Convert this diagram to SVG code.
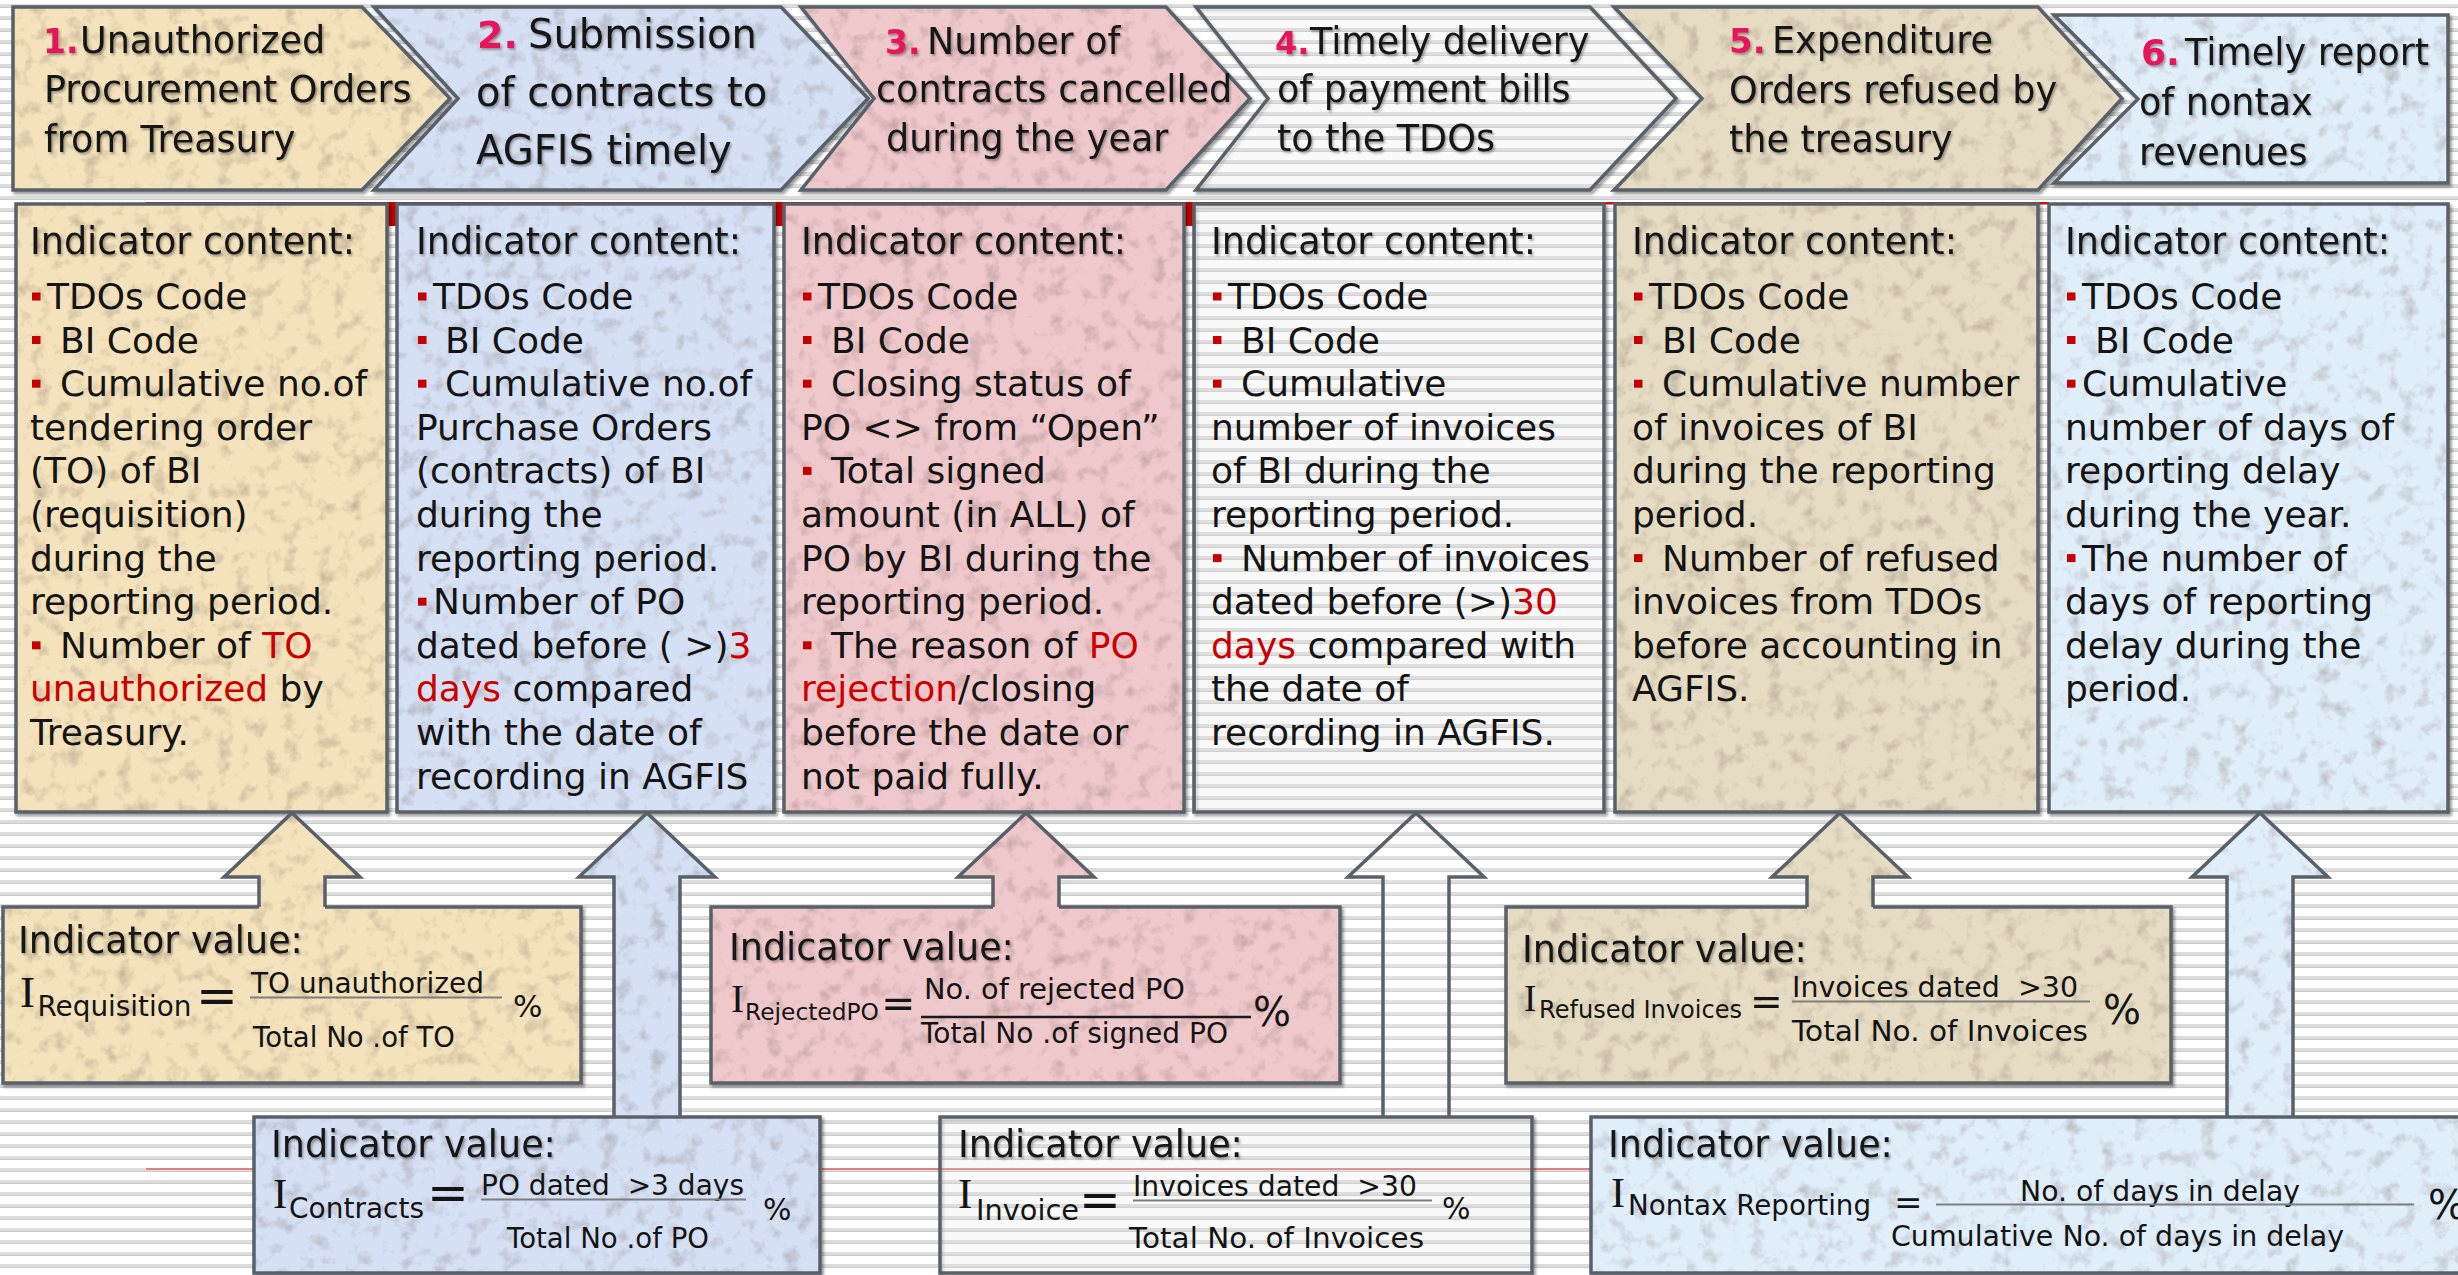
<svg xmlns="http://www.w3.org/2000/svg" width="2458" height="1275" viewBox="0 0 2458 1275">
<defs>
<style>
.ct{font-family:"DejaVu Sans",Verdana,sans-serif;font-size:36px;fill:#141414}
.tt{font-size:36.5px;filter:url(#tsh)}
.hd{font-family:"DejaVu Sans",Verdana,sans-serif;font-size:36.5px;fill:#141414;filter:url(#tsh)}
.h2{font-size:40px}
.n{font-weight:bold;fill:#e6175c}
.r{fill:#cc0000}
.bul{fill:#c40000}
.edge{fill:none;stroke:#59606a;stroke-width:3.5;stroke-linejoin:miter}
.fx{font-family:"DejaVu Sans",Verdana,sans-serif;font-size:27.5px;fill:#141414}
.fi{font-family:"Liberation Serif","Times New Roman",serif;fill:#141414}
.bar{stroke:#7d7d7d;stroke-width:2}
.tan{fill:#f3e2bb}
.blu{fill:#d5e0f4}
.pnk{fill:#efc8cb}
.wht{fill:#ffffff;fill-opacity:0.15}
.bur{fill:#e6dcc3}
.sky{fill:#e0eefa}
</style>
<pattern id="paper" width="12" height="12" patternUnits="userSpaceOnUse">
<rect width="12" height="12" fill="#ffffff"/>
<rect y="4" width="12" height="4" fill="#dcdcdc"/>
<rect y="7" width="12" height="1" fill="#cbcbcb"/>
</pattern>
<filter id="tsh" x="-5%" y="-20%" width="110%" height="150%">
<feDropShadow dx="1.5" dy="2" stdDeviation="1.2" flood-color="#000" flood-opacity="0.35"/>
</filter>
<filter id="drop" x="-3%" y="-3%" width="106%" height="108%">
<feDropShadow dx="2" dy="2.5" stdDeviation="1.5" flood-color="#000" flood-opacity="0.4"/>
</filter>
<!-- soft paper mottling, sampled in user space so it runs on across shapes -->
<filter id="mot" x="0" y="0" width="1" height="1" color-interpolation-filters="sRGB">
<feTurbulence type="fractalNoise" baseFrequency="0.06" numOctaves="4" seed="4" result="t"/>
<feColorMatrix in="t" type="matrix" values="0 0 0 0 0.4  0 0 0 0 0.32  0 0 0 0 0.3  -0.75 0 0 0 0.36" result="s"/>
<feComposite in="s" in2="SourceAlpha" operator="in" result="si"/>
<feMerge><feMergeNode in="SourceGraphic"/><feMergeNode in="si"/></feMerge>
</filter>
</defs>

<!-- lined paper background -->
<rect width="2458" height="1275" fill="url(#paper)"/>
<rect x="146" y="202" width="1047" height="24" fill="#c40000"/>
<rect x="1193" y="202" width="856" height="2.5" fill="#d01010"/>
<line x1="146" y1="1169" x2="2458" y2="1169" stroke="#e08080" stroke-width="2"/>

<!-- stage chevrons -->
<g id="stage-1">
<g filter="url(#drop)"><path class="tan" filter="url(#mot)" d="M13,7 H362 L450,98.5 L362,190 H13 Z"/><path class="edge" d="M13,7 H362 L450,98.5 L362,190 H13 Z"/></g>
<text class="hd n" x="43" y="53" style="font-size:33px">1.</text>
<text class="hd" x="80" y="53">Unauthorized</text>
<text class="hd" x="44" y="102">Procurement Orders</text>
<text class="hd" x="44" y="152">from Treasury</text>
</g>
<g id="stage-2">
<g filter="url(#drop)"><path class="blu" filter="url(#mot)" d="M374,7 H781 L868,98.5 L781,190 H374 L458,98.5 Z"/><path class="edge" d="M374,7 H781 L868,98.5 L781,190 H374 L458,98.5 Z"/></g>
<text class="hd n" x="477" y="48" style="font-size:38px">2.</text>
<text class="hd h2" x="528" y="48">Submission</text>
<text class="hd h2" x="476" y="106">of contracts to</text>
<text class="hd h2" x="476" y="164">AGFIS timely</text>
</g>
<g id="stage-3">
<g filter="url(#drop)"><path class="pnk" filter="url(#mot)" d="M801,7 H1166 L1250,98.5 L1166,190 H801 L874,98.5 Z"/><path class="edge" d="M801,7 H1166 L1250,98.5 L1166,190 H801 L874,98.5 Z"/></g>
<text class="hd n" x="885" y="54" style="font-size:33px">3.</text>
<text class="hd" x="927" y="54">Number of</text>
<text class="hd" x="876" y="102">contracts cancelled</text>
<text class="hd" x="886" y="151">during the year</text>
</g>
<g id="stage-4">
<g filter="url(#drop)"><path class="wht" d="M1196,7 H1590 L1676,98.5 L1590,190 H1196 L1268,98.5 Z"/><path class="edge" d="M1196,7 H1590 L1676,98.5 L1590,190 H1196 L1268,98.5 Z"/></g>
<text class="hd n" x="1275" y="54" style="font-size:32px">4.</text>
<text class="hd" x="1310" y="54">Timely delivery</text>
<text class="hd" x="1277" y="102">of payment bills</text>
<text class="hd" x="1277" y="151">to the TDOs</text>
</g>
<g id="stage-5">
<g filter="url(#drop)"><path class="bur" filter="url(#mot)" d="M1614,7 H2038 L2122,98.5 L2038,190 H1614 L1702,98.5 Z"/><path class="edge" d="M1614,7 H2038 L2122,98.5 L2038,190 H1614 L1702,98.5 Z"/></g>
<text class="hd n" x="1729" y="53" style="font-size:34px">5.</text>
<text class="hd" x="1772" y="53">Expenditure</text>
<text class="hd" x="1729" y="103">Orders refused by</text>
<text class="hd" x="1729" y="152">the treasury</text>
</g>
<g id="stage-6">
<g filter="url(#drop)"><path class="sky" filter="url(#mot)" d="M2054,15 H2448 V183 H2054 L2138,99 Z"/><path class="edge" d="M2054,15 H2448 V183 H2054 L2138,99 Z"/></g>
<text class="hd n" x="2141" y="65" style="font-size:36px">6.</text>
<text class="hd" x="2185" y="65">Timely report</text>
<text class="hd" x="2139" y="115">of nontax</text>
<text class="hd" x="2139" y="165">revenues</text>
</g>

<!-- indicator content panels -->
<g id="content-1">
<g filter="url(#drop)"><rect class="tan" filter="url(#mot)" x="16" y="204" width="371" height="608"/><rect class="edge" x="16" y="204" width="371" height="608"/></g>
<text class="ct tt" x="30" y="254">Indicator content:</text>
<rect class="bul" x="32" y="292.5" width="8.5" height="8"/><text class="ct" x="47" y="309">TDOs Code</text>
<rect class="bul" x="32" y="336" width="8.5" height="8"/><text class="ct" x="60" y="352.6">BI Code</text>
<rect class="bul" x="32" y="379.7" width="8.5" height="8"/><text class="ct" x="60" y="396.2">Cumulative no.of</text>
<text class="ct" x="30" y="439.8">tendering order</text>
<text class="ct" x="30" y="483.4">(TO) of BI</text>
<text class="ct" x="30" y="527">(requisition)</text>
<text class="ct" x="30" y="570.6">during the</text>
<text class="ct" x="30" y="614.2">reporting period.</text>
<rect class="bul" x="32" y="641.3" width="8.5" height="8"/><text class="ct" x="60" y="657.8">Number of <tspan class="r">TO</tspan></text>
<text class="ct" x="30" y="701.4"><tspan class="r">unauthorized</tspan> by</text>
<text class="ct" x="30" y="745">Treasury.</text>
</g>
<g id="content-2">
<g filter="url(#drop)"><rect class="blu" filter="url(#mot)" x="397" y="204" width="377" height="608"/><rect class="edge" x="397" y="204" width="377" height="608"/></g>
<text class="ct tt" x="416" y="254">Indicator content:</text>
<rect class="bul" x="418" y="292.5" width="8.5" height="8"/><text class="ct" x="433" y="309">TDOs Code</text>
<rect class="bul" x="418" y="336" width="8.5" height="8"/><text class="ct" x="445" y="352.6">BI Code</text>
<rect class="bul" x="418" y="379.7" width="8.5" height="8"/><text class="ct" x="445" y="396.2">Cumulative no.of</text>
<text class="ct" x="416" y="439.8">Purchase Orders</text>
<text class="ct" x="416" y="483.4">(contracts) of BI</text>
<text class="ct" x="416" y="527">during the</text>
<text class="ct" x="416" y="570.6">reporting period.</text>
<rect class="bul" x="418" y="597.7" width="8.5" height="8"/><text class="ct" x="433" y="614.2">Number of PO</text>
<text class="ct" x="416" y="657.8">dated before ( &gt;)<tspan class="r">3</tspan></text>
<text class="ct" x="416" y="701.4"><tspan class="r">days</tspan> compared</text>
<text class="ct" x="416" y="745">with the date of</text>
<text class="ct" x="416" y="788.6">recording in AGFIS</text>
</g>
<g id="content-3">
<g filter="url(#drop)"><rect class="pnk" filter="url(#mot)" x="784" y="204" width="400" height="608"/><rect class="edge" x="784" y="204" width="400" height="608"/></g>
<text class="ct tt" x="801" y="254">Indicator content:</text>
<rect class="bul" x="803" y="292.5" width="8.5" height="8"/><text class="ct" x="818" y="309">TDOs Code</text>
<rect class="bul" x="803" y="336" width="8.5" height="8"/><text class="ct" x="831" y="352.6">BI Code</text>
<rect class="bul" x="803" y="379.7" width="8.5" height="8"/><text class="ct" x="831" y="396.2">Closing status of</text>
<text class="ct" x="801" y="439.8">PO &lt;&gt; from “Open”</text>
<rect class="bul" x="803" y="466.9" width="8.5" height="8"/><text class="ct" x="831" y="483.4">Total signed</text>
<text class="ct" x="801" y="527">amount (in ALL) of</text>
<text class="ct" x="801" y="570.6">PO by BI during the</text>
<text class="ct" x="801" y="614.2">reporting period.</text>
<rect class="bul" x="803" y="641.3" width="8.5" height="8"/><text class="ct" x="831" y="657.8">The reason of <tspan class="r">PO</tspan></text>
<text class="ct" x="801" y="701.4"><tspan class="r">rejection</tspan>/closing</text>
<text class="ct" x="801" y="745">before the date or</text>
<text class="ct" x="801" y="788.6">not paid fully.</text>
</g>
<g id="content-4">
<g filter="url(#drop)"><rect class="wht" x="1194" y="204" width="410" height="608"/><rect class="edge" x="1194" y="204" width="410" height="608"/></g>
<text class="ct tt" x="1211" y="254">Indicator content:</text>
<rect class="bul" x="1213" y="292.5" width="8.5" height="8"/><text class="ct" x="1228" y="309">TDOs Code</text>
<rect class="bul" x="1213" y="336" width="8.5" height="8"/><text class="ct" x="1241" y="352.6">BI Code</text>
<rect class="bul" x="1213" y="379.7" width="8.5" height="8"/><text class="ct" x="1241" y="396.2">Cumulative</text>
<text class="ct" x="1211" y="439.8">number of invoices</text>
<text class="ct" x="1211" y="483.4">of BI during the</text>
<text class="ct" x="1211" y="527">reporting period.</text>
<rect class="bul" x="1213" y="554.1" width="8.5" height="8"/><text class="ct" x="1241" y="570.6">Number of invoices</text>
<text class="ct" x="1211" y="614.2">dated before (&gt;)<tspan class="r">30</tspan></text>
<text class="ct" x="1211" y="657.8"><tspan class="r">days</tspan> compared with</text>
<text class="ct" x="1211" y="701.4">the date of</text>
<text class="ct" x="1211" y="745">recording in AGFIS.</text>
</g>
<g id="content-5">
<g filter="url(#drop)"><rect class="bur" filter="url(#mot)" x="1615" y="204" width="423" height="608"/><rect class="edge" x="1615" y="204" width="423" height="608"/></g>
<text class="ct tt" x="1632" y="254">Indicator content:</text>
<rect class="bul" x="1634" y="292.5" width="8.5" height="8"/><text class="ct" x="1649" y="309">TDOs Code</text>
<rect class="bul" x="1634" y="336" width="8.5" height="8"/><text class="ct" x="1662" y="352.6">BI Code</text>
<rect class="bul" x="1634" y="379.7" width="8.5" height="8"/><text class="ct" x="1662" y="396.2">Cumulative number</text>
<text class="ct" x="1632" y="439.8">of invoices of BI</text>
<text class="ct" x="1632" y="483.4">during the reporting</text>
<text class="ct" x="1632" y="527">period.</text>
<rect class="bul" x="1634" y="554.1" width="8.5" height="8"/><text class="ct" x="1662" y="570.6">Number of refused</text>
<text class="ct" x="1632" y="614.2">invoices from TDOs</text>
<text class="ct" x="1632" y="657.8">before accounting in</text>
<text class="ct" x="1632" y="701.4">AGFIS.</text>
</g>
<g id="content-6">
<g filter="url(#drop)"><rect class="sky" filter="url(#mot)" x="2049" y="204" width="399" height="608"/><rect class="edge" x="2049" y="204" width="399" height="608"/></g>
<text class="ct tt" x="2065" y="254">Indicator content:</text>
<rect class="bul" x="2067" y="292.5" width="8.5" height="8"/><text class="ct" x="2082" y="309">TDOs Code</text>
<rect class="bul" x="2067" y="336" width="8.5" height="8"/><text class="ct" x="2095" y="352.6">BI Code</text>
<rect class="bul" x="2067" y="379.7" width="8.5" height="8"/><text class="ct" x="2082" y="396.2">Cumulative</text>
<text class="ct" x="2065" y="439.8">number of days of</text>
<text class="ct" x="2065" y="483.4">reporting delay</text>
<text class="ct" x="2065" y="527">during the year.</text>
<rect class="bul" x="2067" y="554.1" width="8.5" height="8"/><text class="ct" x="2082" y="570.6">The number of</text>
<text class="ct" x="2065" y="614.2">days of reporting</text>
<text class="ct" x="2065" y="657.8">delay during the</text>
<text class="ct" x="2065" y="701.4">period.</text>
</g>

<!-- indicator value boxes -->
<g id="value-1">
<g filter="url(#drop)"><rect class="tan" filter="url(#mot)" x="3" y="907" width="578" height="176"/><rect class="edge" x="3" y="907" width="578" height="176"/></g>
<text class="ct tt" x="18" y="953">Indicator value:</text>
<text class="fi" x="20" y="1007" font-size="45">I</text>
<text class="fx" x="37.5" y="1016" textLength="154" lengthAdjust="spacingAndGlyphs">Requisition</text>
<text class="fx" x="196" y="1013" style="font-size:50px">=</text>
<text class="fx" x="251" y="993" textLength="233" lengthAdjust="spacingAndGlyphs">TO unauthorized</text>
<line class="bar" x1="250" y1="997.5" x2="502" y2="997.5"/>
<text class="fx" x="253" y="1047" textLength="202" lengthAdjust="spacingAndGlyphs">Total No .of TO</text>
<text class="fx" x="513" y="1017" style="font-size:31px">%</text>
</g>
<g id="value-2">
<g filter="url(#drop)"><rect class="blu" filter="url(#mot)" x="254" y="1117" width="566" height="156"/><rect class="edge" x="254" y="1117" width="566" height="156"/></g>
<text class="ct tt" x="271" y="1157">Indicator value:</text>
<text class="fi" x="273" y="1208" font-size="43">I</text>
<text class="fx" x="289" y="1218" textLength="135" lengthAdjust="spacingAndGlyphs">Contracts</text>
<text class="fx" x="427" y="1210" style="font-size:50px">=</text>
<text class="fx" x="481" y="1195" textLength="263" lengthAdjust="spacingAndGlyphs">PO dated&#160; &gt;3 days</text>
<line class="bar" x1="481" y1="1199.5" x2="746" y2="1199.5"/>
<text class="fx" x="507" y="1248" textLength="202" lengthAdjust="spacingAndGlyphs">Total No .of PO</text>
<text class="fx" x="763" y="1220" style="font-size:30px">%</text>
</g>
<g id="value-3">
<g filter="url(#drop)"><rect class="pnk" filter="url(#mot)" x="711" y="907" width="629" height="176"/><rect class="edge" x="711" y="907" width="629" height="176"/></g>
<text class="ct tt" x="729" y="960">Indicator value:</text>
<text class="fi" x="731" y="1012" font-size="39">I</text>
<text class="fx" x="745" y="1020" style="font-size:23.5px" textLength="134" lengthAdjust="spacingAndGlyphs">RejectedPO</text>
<text class="fx" x="881" y="1017" style="font-size:41px">=</text>
<text class="fx" x="924" y="999" textLength="261" lengthAdjust="spacingAndGlyphs">No. of rejected PO</text>
<line x1="921" y1="1017" x2="1251" y2="1017" stroke="#1a1a1a" stroke-width="2.5"/>
<text class="fx" x="921" y="1043" textLength="307" lengthAdjust="spacingAndGlyphs">Total No .of signed PO</text>
<text class="fx" x="1253" y="1026" style="font-size:40px">%</text>
</g>
<g id="value-4">
<g filter="url(#drop)"><rect class="wht" x="940" y="1117" width="592" height="156"/><rect class="edge" x="940" y="1117" width="592" height="156"/></g>
<text class="ct tt" x="958" y="1157">Indicator value:</text>
<text class="fi" x="958" y="1208" font-size="43">I</text>
<text class="fx" x="976" y="1220" style="font-size:28.5px" textLength="103" lengthAdjust="spacingAndGlyphs">Invoice</text>
<text class="fx" x="1079" y="1217" style="font-size:50px">=</text>
<text class="fx" x="1133" y="1196" textLength="284" lengthAdjust="spacingAndGlyphs">Invoices dated&#160; &gt;30</text>
<line class="bar" x1="1133" y1="1200.5" x2="1432" y2="1200.5"/>
<text class="fx" x="1129" y="1248" textLength="295" lengthAdjust="spacingAndGlyphs">Total No. of Invoices</text>
<text class="fx" x="1442" y="1219" style="font-size:30px">%</text>
</g>
<g id="value-5">
<g filter="url(#drop)"><rect class="bur" filter="url(#mot)" x="1506" y="907" width="665" height="176"/><rect class="edge" x="1506" y="907" width="665" height="176"/></g>
<text class="ct tt" x="1522" y="962">Indicator value:</text>
<text class="fi" x="1524" y="1011" font-size="37">I</text>
<text class="fx" x="1539" y="1018" style="font-size:24px" textLength="203" lengthAdjust="spacingAndGlyphs">Refused Invoices</text>
<text class="fx" x="1750" y="1015" style="font-size:39px">=</text>
<text class="fx" x="1792" y="997" textLength="286" lengthAdjust="spacingAndGlyphs">Invoices dated&#160; &gt;30</text>
<line class="bar" x1="1792" y1="1001.5" x2="2090" y2="1001.5"/>
<text class="fx" x="1792" y="1041" textLength="296" lengthAdjust="spacingAndGlyphs">Total No. of Invoices</text>
<text class="fx" x="2103" y="1024" style="font-size:40px">%</text>
</g>
<g id="value-6">
<g filter="url(#drop)"><rect class="sky" filter="url(#mot)" x="1591" y="1117" width="880" height="156"/><rect class="edge" x="1591" y="1117" width="880" height="156"/></g>
<text class="ct tt" x="1608" y="1157">Indicator value:</text>
<text class="fi" x="1611" y="1207" font-size="42">I</text>
<text class="fx" x="1628" y="1215" textLength="243" lengthAdjust="spacingAndGlyphs">Nontax Reporting</text>
<text class="fx" x="1894" y="1214" style="font-size:34px">=</text>
<text class="fx" x="2020" y="1201" textLength="280" lengthAdjust="spacingAndGlyphs">No. of days in delay</text>
<line class="bar" x1="1936" y1="1204.5" x2="2414" y2="1204.5"/>
<text class="fx" x="1891" y="1246" textLength="453" lengthAdjust="spacingAndGlyphs">Cumulative No. of days in delay</text>
<text class="fx" x="2428" y="1219" style="font-size:40px">%</text>
</g>

<!-- block arrows from each value box up to its content panel -->
<g id="connectors">
<g id="arrow-1"><path class="tan" filter="url(#mot)" d="M259,909 V877 H224 L292,813 L360,877 H325 V909 Z"/><path class="edge" d="M259,907 V877 H224 L292,813 L360,877 H325 V907"/></g>
<g id="arrow-2"><path class="blu" filter="url(#mot)" d="M614,1115 V877 H579 L647,813 L715,877 H680 V1115 Z"/><path class="edge" d="M614,1117 V877 H579 L647,813 L715,877 H680 V1117"/></g>
<g id="arrow-3"><path class="pnk" filter="url(#mot)" d="M993,909 V877 H958 L1026,813 L1094,877 H1059 V909 Z"/><path class="edge" d="M993,907 V877 H958 L1026,813 L1094,877 H1059 V907"/></g>
<g id="arrow-4"><path class="wht" d="M1383,1115 V877 H1348 L1416,813 L1484,877 H1449 V1115 Z"/><path class="edge" d="M1383,1117 V877 H1348 L1416,813 L1484,877 H1449 V1117"/></g>
<g id="arrow-5"><path class="bur" filter="url(#mot)" d="M1807,909 V877 H1772 L1840,813 L1908,877 H1873 V909 Z"/><path class="edge" d="M1807,907 V877 H1772 L1840,813 L1908,877 H1873 V907"/></g>
<g id="arrow-6"><path class="sky" filter="url(#mot)" d="M2227,1115 V877 H2192 L2260,813 L2328,877 H2293 V1115 Z"/><path class="edge" d="M2227,1117 V877 H2192 L2260,813 L2328,877 H2293 V1117"/></g>
</g>
</svg>
